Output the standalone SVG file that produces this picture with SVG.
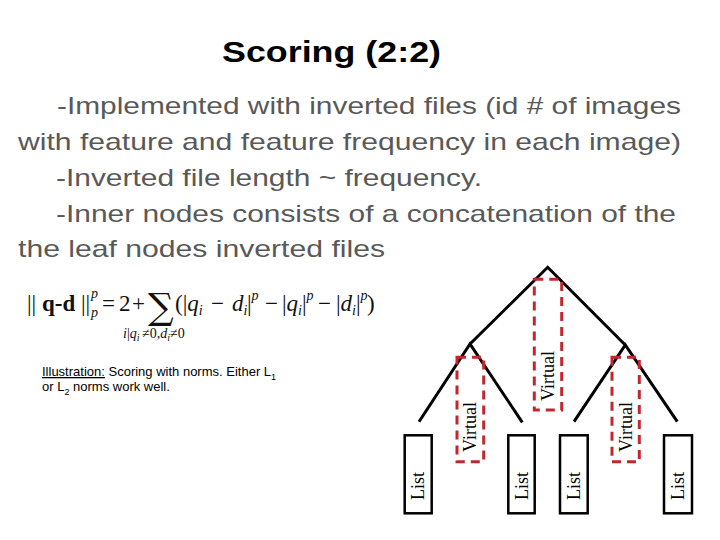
<svg xmlns="http://www.w3.org/2000/svg" width="720" height="540" viewBox="0 0 720 540">
<style>
.title{font-family:"Liberation Sans",Arial,sans-serif;font-size:30px;font-weight:bold;fill:#000}
.body{font-family:"Liberation Sans",Arial,sans-serif;font-size:24px;fill:#595959}
.m{font-family:"Liberation Serif","DejaVu Serif",serif;font-size:23px;fill:#111}
.it{font-style:italic}
.sm{font-size:14px;font-style:italic}
.up{font-size:14px}
.tn{font-size:10px;font-style:italic}
.sig{font-family:"DejaVu Serif",serif;font-size:36px}
.cap{font-family:"Liberation Sans",Arial,sans-serif;font-size:13px;fill:#000}
.sub{font-size:9px}
.edge{stroke:#000;stroke-width:3;fill:none;stroke-linecap:butt}
.list{fill:#fff;stroke:#000;stroke-width:2.5}
.virt{fill:none;stroke:#c0282e;stroke-width:3;stroke-dasharray:9 6}
.lbl{font-family:"Liberation Serif","Times New Roman",serif;font-size:18px;fill:#000}
</style>
<rect width="720" height="540" fill="#fff"/>
<g id="title"><text class="title" x="222" y="62" textLength="219" lengthAdjust="spacingAndGlyphs">Scoring (2:2)</text></g>
<g id="body">
<text class="body" x="57" y="113.5" textLength="624" lengthAdjust="spacingAndGlyphs">-Implemented with inverted files (id # of images</text>
<text class="body" x="18" y="149.5" textLength="663" lengthAdjust="spacingAndGlyphs">with feature and feature frequency in each image)</text>
<text class="body" x="56" y="185.5" textLength="426" lengthAdjust="spacingAndGlyphs">-Inverted file length ~ frequency.</text>
<text class="body" x="56" y="221.5" textLength="620" lengthAdjust="spacingAndGlyphs">-Inner nodes consists of a concatenation of the</text>
<text class="body" x="18" y="256.5" textLength="367" lengthAdjust="spacingAndGlyphs">the leaf nodes inverted files</text>
</g>
<g id="formula">
<text class="m" y="311"><tspan x="27">||</tspan><tspan x="42" font-weight="bold">q-d</tspan><tspan x="81">||</tspan><tspan class="sm" x="91" y="298">p</tspan><tspan class="sm" x="91" y="317">p</tspan><tspan x="102" y="311">=</tspan><tspan x="119">2</tspan><tspan x="132">+</tspan><tspan class="sig" x="148" y="319">∑</tspan><tspan x="175" y="311">(|</tspan><tspan class="it">q</tspan><tspan class="sm" y="315">i</tspan><tspan x="211" y="311">−</tspan><tspan x="232" class="it">d</tspan><tspan class="sm" y="315">i</tspan><tspan x="247" y="311">|</tspan><tspan class="sm" y="300">p</tspan><tspan x="265" y="311">−</tspan><tspan x="282">|</tspan><tspan class="it">q</tspan><tspan class="sm" y="315">i</tspan><tspan y="311">|</tspan><tspan class="sm" y="300">p</tspan><tspan x="318" y="311">−</tspan><tspan x="336">|</tspan><tspan class="it">d</tspan><tspan class="sm" y="315">i</tspan><tspan y="311">|</tspan><tspan class="sm" y="300">p</tspan><tspan x="367" y="311">)</tspan></text>
<text class="m" y="338"><tspan class="sm" x="123">i</tspan><tspan class="up">|</tspan><tspan class="sm">q</tspan><tspan class="tn" y="341">i</tspan><tspan class="up" x="142" y="338">≠</tspan><tspan class="up">0,</tspan><tspan class="sm">d</tspan><tspan class="tn" y="341">i</tspan><tspan class="up" y="338">≠</tspan><tspan class="up">0</tspan></text>
</g>
<g id="caption">
<text class="cap" x="42" y="376"><tspan text-decoration="underline">Illustration:</tspan> Scoring with norms. Either L<tspan class="sub" dy="4">1</tspan></text>
<text class="cap" x="42" y="391">or L<tspan class="sub" dy="4">2</tspan><tspan dy="-4"> norms work well.</tspan></text>
</g>
<g id="connectors">
<polyline class="edge" points="470,344 547.7,267.3 625.3,345"/>
<polyline class="edge" points="419,421.7 470,344 522.3,422.3"/>
<polyline class="edge" points="574,421.7 625.3,345 677.3,421.7"/>
</g>
<g id="virtual-root"><rect class="virt" x="534.3" y="279.3" width="27.4" height="130.7"/><text class="lbl" transform="translate(548.3,376) rotate(-90)" text-anchor="middle" dominant-baseline="central">Virtual</text></g>
<g id="virtual-left"><rect class="virt" x="457" y="357.3" width="26.7" height="104.4"/><text class="lbl" transform="translate(469.8,427) rotate(-90)" text-anchor="middle" dominant-baseline="central">Virtual</text></g>
<g id="virtual-right"><rect class="virt" x="612" y="357.3" width="27.3" height="104.4"/><text class="lbl" transform="translate(625.7,427) rotate(-90)" text-anchor="middle" dominant-baseline="central">Virtual</text></g>
<g id="list-1"><rect class="list" x="404.7" y="435.3" width="27" height="78"/><text class="lbl" transform="translate(418.2,486) rotate(-90)" text-anchor="middle" dominant-baseline="central">List</text></g>
<g id="list-2"><rect class="list" x="508.3" y="435.3" width="26.4" height="78"/><text class="lbl" transform="translate(521.5,486) rotate(-90)" text-anchor="middle" dominant-baseline="central">List</text></g>
<g id="list-3"><rect class="list" x="560" y="435.3" width="27.7" height="78"/><text class="lbl" transform="translate(573.8,486) rotate(-90)" text-anchor="middle" dominant-baseline="central">List</text></g>
<g id="list-4"><rect class="list" x="664" y="435.3" width="28" height="78"/><text class="lbl" transform="translate(678,486) rotate(-90)" text-anchor="middle" dominant-baseline="central">List</text></g>
</svg>
